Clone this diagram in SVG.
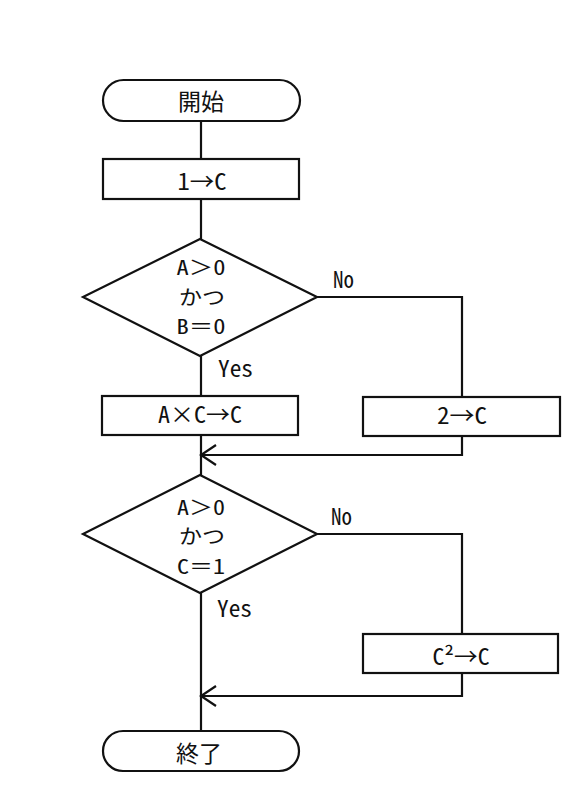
<svg xmlns="http://www.w3.org/2000/svg" width="587" height="810" viewBox="0 0 587 810">
<style>
.s{fill:#fff;stroke:#111;stroke-width:2.2}
.c{fill:none;stroke:#111;stroke-width:2.2}
text{font-family:"Noto Sans Mono CJK JP","Noto Sans CJK JP",sans-serif;font-size:23px;fill:#111;text-anchor:middle}
.d{font-size:20px}
.l{text-anchor:start}
</style>
<defs>
<marker id="ah" markerUnits="userSpaceOnUse" markerWidth="30" markerHeight="30" viewBox="-20 -15 30 30" refX="0" refY="0" orient="auto">
<path d="M-15,-10 L0,0 L-15,10" fill="none" stroke="#111" stroke-width="2.2"/>
</marker>
</defs>
<rect width="587" height="810" fill="#fff"/>
<g id="connectors">
<path class="c" d="M201,121 V159"/>
<path class="c" d="M201,199 V239"/>
<path class="c" d="M201,356 V396"/>
<path class="c" d="M317,297 H462 V397"/>
<path class="c" d="M462,436 V455 H201" marker-end="url(#ah)"/>
<path class="c" d="M201,435 V475"/>
<path class="c" d="M317,534 H462 V634"/>
<path class="c" d="M462,673 V696 H201" marker-end="url(#ah)"/>
<path class="c" d="M201,593 V731"/>
<text class="l" x="333" y="288" textLength="21" lengthAdjust="spacingAndGlyphs">No</text>
<text class="l" x="218" y="377" textLength="35" lengthAdjust="spacingAndGlyphs">Yes</text>
<text class="l" x="331" y="525" textLength="21" lengthAdjust="spacingAndGlyphs">No</text>
<text class="l" x="217" y="617" textLength="35" lengthAdjust="spacingAndGlyphs">Yes</text>
</g>
<g id="start">
<rect class="s" x="103" y="80" width="197" height="41" rx="20.5"/>
<text x="201" y="110">開始</text>
</g>
<g id="init">
<rect class="s" x="103" y="159" width="196" height="40"/>
<text x="202" y="190" textLength="49" lengthAdjust="spacingAndGlyphs">1→C</text>
</g>
<g id="cond1">
<polygon class="s" points="200,239 317,297 200,356 83,297"/>
<text class="d" x="201" y="275" textLength="49" lengthAdjust="spacingAndGlyphs">A＞0</text>
<text class="d" x="202" y="305" textLength="46" lengthAdjust="spacingAndGlyphs">かつ</text>
<text class="d" x="201" y="334" textLength="49" lengthAdjust="spacingAndGlyphs">B＝0</text>
</g>
<g id="mul">
<rect class="s" x="102" y="396" width="196" height="39"/>
<text x="200" y="423" textLength="84" lengthAdjust="spacingAndGlyphs">A×C→C</text>
</g>
<g id="two">
<rect class="s" x="363" y="397" width="197" height="39"/>
<text x="462" y="424" textLength="50" lengthAdjust="spacingAndGlyphs">2→C</text>
</g>
<g id="cond2">
<polygon class="s" points="200,475 317,534 200,593 83,534"/>
<text class="d" x="201" y="515" textLength="48" lengthAdjust="spacingAndGlyphs">A＞0</text>
<text class="d" x="202" y="544" textLength="46" lengthAdjust="spacingAndGlyphs">かつ</text>
<text class="d" x="201" y="574" textLength="48" lengthAdjust="spacingAndGlyphs">C＝1</text>
</g>
<g id="square">
<rect class="s" x="363" y="634" width="195" height="39"/>
<text x="461" y="665" textLength="57" lengthAdjust="spacingAndGlyphs">C²→C</text>
</g>
<g id="end">
<rect class="s" x="103" y="731" width="196" height="40" rx="20"/>
<text x="199" y="762">終了</text>
</g>
</svg>
